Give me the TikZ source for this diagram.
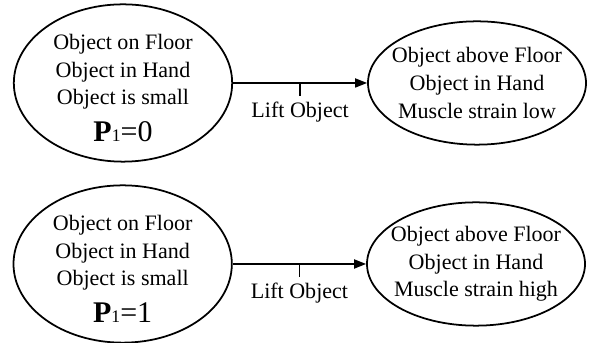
\documentclass[tikz,border=0pt]{standalone}
\usepackage{fontspec}
\setmainfont{Liberation Serif}
\usetikzlibrary{shapes.geometric, arrows.meta}

\newcommand{\pval}[1]{{\fontsize{25.6}{28}\selectfont\textbf{P}{\fontsize{15}{16}\selectfont 1}=#1}}

\begin{document}
\begin{tikzpicture}[
        state/.style = {draw, ellipse, line width = 1.5pt, inner sep = 0pt},
        pre/.style = {state, minimum width = 6.55cm, minimum height = 4.72cm},
        post/.style = {state, minimum width = 6.54cm, minimum height = 3.7cm},
        facts/.style = {align = center, font = \fontsize{18.8}{23.5}\selectfont},
        act/.style = {line width = 1.5pt, -{Triangle[length = 0.36cm, width = 0.27cm]}},
        tick/.style = {line width = 1.5pt}
    ]
    \useasboundingbox (0, 0) rectangle (17.76, 10.29);

    % upper case
    \node [pre] (s1) at (3.69, 7.8) {};
    \node [post] (t1) at (14.31, 7.8) {};
    \node [facts, yshift = -0.15cm] (f1) at (s1) {Object on Floor\\Object in Hand\\Object is small\\[0.28cm]\pval{0}};
    \node [facts] (g1) at (t1) {Object above Floor\\Object in Hand\\Muscle strain low};
    \draw [act] (s1) -- coordinate [midway] (m1) (t1);
    \draw [tick] (m1) -- ++(0, -0.39) node [below, facts, yshift = -0.05cm] (a1) {Lift Object};

    % lower case
    \node [pre] (s2) at (3.68, 2.37) {};
    \node [post] (t2) at (14.28, 2.37) {};
    \node [facts, yshift = -0.15cm] (f2) at (s2) {Object on Floor\\Object in Hand\\Object is small\\[0.28cm]\pval{1}};
    \node [facts] (g2) at (t2) {Object above Floor\\Object in Hand\\Muscle strain high};
    \draw [act] (s2) -- coordinate [midway] (m2) (t2);
    \draw [tick] (m2) -- ++(0, -0.39) node [below, facts, yshift = -0.05cm] (a2) {Lift Object};
\end{tikzpicture}
\end{document}
